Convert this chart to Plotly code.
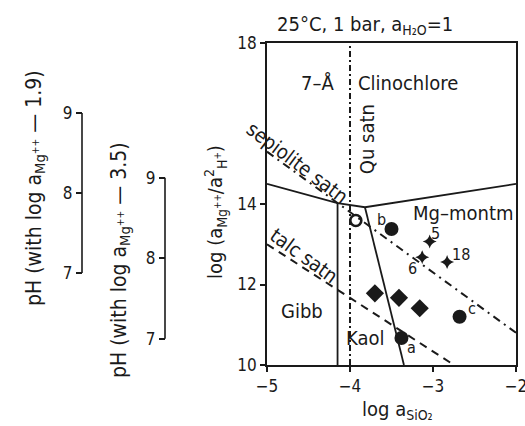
import plotly.graph_objects as go

# ---- data -------------------------------------------------------------
# phase boundaries (log aSiO2, log aMg++/aH+^2)
upper_bound_x = [-5.0, -4.15, -3.82, -2.0]
upper_bound_y = [14.5, 14.02, 13.92, 14.5]
gibb_kaol_x = [-4.15, -4.15]
gibb_kaol_y = [14.02, 10.0]
kaol_mont_x = [-3.82, -3.35]
kaol_mont_y = [13.92, 10.0]

# saturation lines
qu_satn_x = [-4.0, -4.0]
qu_satn_y = [10.0, 18.0]
sepiolite_x = [-5.0, -2.0]
sepiolite_y = [15.3, 10.8]
talc_x = [-5.0, -2.77]
talc_y = [13.0, 10.03]

# water samples
circle_x = [-3.38, -3.50, -2.68]
circle_y = [10.67, 13.38, 11.20]
circle_lbl = ["a", "b", "c"]
open_x = [-3.93]
open_y = [13.59]
diamond_x = [-3.70, -3.41, -3.16]
diamond_y = [11.78, 11.67, 11.41]
star_x = [-3.04, -3.13, -2.83]
star_y = [13.07, 12.68, 12.56]
star_lbl = ["5", "6", "18"]

x_ticks = [-5, -4, -3, -2]
x_ticklabels = ["\u22125", "\u22124", "\u22123", "\u22122"]
y_ticks = [10, 12, 14, 18]
ph_ticks = [7, 8, 9]

FONT = "DejaVu Sans Condensed, Liberation Sans Narrow, Liberation Sans, sans-serif"
INK = "#1a1a1a"

W, H = 525, 426
ML, MR, MT, MB = 10, 9, 43, 61
PW = W - ML - MR
PH = H - MT - MB


def px_x(px):
    return (px - ML) / PW


def px_y(py):
    return (H - MB - py) / PH


fig = go.Figure()

line_style = dict(color=INK, width=1.8)
for xs, ys in [(upper_bound_x, upper_bound_y), (gibb_kaol_x, gibb_kaol_y),
               (kaol_mont_x, kaol_mont_y)]:
    fig.add_trace(go.Scatter(x=xs, y=ys, mode="lines", line=line_style,
                             hoverinfo="skip", showlegend=False))

fig.add_trace(go.Scatter(x=qu_satn_x, y=qu_satn_y, mode="lines",
                         line=dict(color=INK, width=2, dash="6px,3px,2px,3px"),
                         showlegend=False))
fig.add_trace(go.Scatter(x=sepiolite_x, y=sepiolite_y, mode="lines",
                         line=dict(color=INK, width=2, dash="8px,5px,2px,5px"),
                         showlegend=False))
fig.add_trace(go.Scatter(x=talc_x, y=talc_y, mode="lines",
                         line=dict(color=INK, width=2, dash="8px,6px"),
                         showlegend=False))

fig.add_trace(go.Scatter(x=circle_x, y=circle_y, mode="markers",
                         marker=dict(symbol="circle", size=14, color=INK),
                         showlegend=False))
fig.add_trace(go.Scatter(x=open_x, y=open_y, mode="markers",
                         marker=dict(symbol="circle-open", size=11, color=INK,
                                     line=dict(color=INK, width=2.6)),
                         showlegend=False))
fig.add_trace(go.Scatter(x=diamond_x, y=diamond_y, mode="markers",
                         marker=dict(symbol="diamond", size=14, color=INK),
                         showlegend=False))
fig.add_trace(go.Scatter(x=star_x, y=star_y, mode="markers",
                         marker=dict(symbol="star-diamond", size=10, color=INK),
                         showlegend=False))

# placeholders so the pH scales are drawn
fig.add_trace(go.Scatter(x=[None], y=[None], yaxis="y2", showlegend=False))
fig.add_trace(go.Scatter(x=[None], y=[None], yaxis="y3", showlegend=False))

tickfont = dict(family=FONT, size=17, color=INK)
fig.update_layout(
    width=W, height=H,
    margin=dict(l=ML, r=MR, t=MT, b=MB, autoexpand=False),
    paper_bgcolor="white", plot_bgcolor="white",
    font=dict(family=FONT, color=INK),
    xaxis=dict(domain=[px_x(267), 1], range=[-5, -2], tickvals=x_ticks,
               ticktext=x_ticklabels, ticks="outside", ticklen=5,
               tickwidth=1.5, tickcolor=INK, showline=True, mirror=True,
               linecolor=INK, linewidth=1.8, showgrid=False, zeroline=False,
               tickfont=tickfont, ticklabeloverflow="allow", automargin=False),
    yaxis=dict(range=[10, 18], tickvals=y_ticks, ticks="outside", ticklen=5,
               tickwidth=1.5, tickcolor=INK, showline=True, mirror=True,
               linecolor=INK, linewidth=1.8, showgrid=False, zeroline=False,
               tickfont=tickfont, automargin=False),
    yaxis2=dict(overlaying="y", anchor="free", position=px_x(82), side="left",
                range=[5.85, 9.875], tickvals=ph_ticks, ticks="outside",
                ticklen=6, tickwidth=1.5, tickcolor=INK, showline=False,
                showgrid=False, zeroline=False, tickfont=tickfont,
                automargin=False),
    yaxis3=dict(overlaying="y", anchor="free", position=px_x(165), side="left",
                range=[6.675, 10.675], tickvals=ph_ticks, ticks="outside",
                ticklen=6, tickwidth=1.5, tickcolor=INK, showline=False,
                showgrid=False, zeroline=False, tickfont=tickfont,
                automargin=False),
)

# pH scale spines between 7 and 9
for pos, yref in [(px_x(82), "y2"), (px_x(165), "y3")]:
    fig.add_shape(type="line", xref="paper", yref=yref, x0=pos, x1=pos,
                  y0=7, y1=9, line=dict(color=INK, width=1.6))

ann = []
lab = dict(family=FONT, size=20, color=INK)
centre = dict(xanchor="center", yanchor="middle", showarrow=False)
ann.append(dict(text="25\u00b0C, 1 bar, a<sub>H\u2082O</sub>=1", xref="paper",
                yref="paper", x=px_x(365), y=px_y(25), font=lab, **centre))
ann.append(dict(text="log a<sub>SiO\u2082</sub>", xref="paper", yref="paper",
                x=px_x(397), y=px_y(410), font=lab, **centre))
ann.append(dict(text="log (a<sub>Mg<sup>++</sup></sub>/a<sup>2</sup><sub>H<sup>+</sup></sub>)",
                xref="paper", yref="paper", x=px_x(215), y=px_y(212),
                textangle=-90, font=lab, **centre))
ann.append(dict(text="pH (with log a<sub>Mg<sup>++</sup></sub> \u2014 1.9)",
                xref="paper", yref="paper", x=px_x(35), y=px_y(188),
                textangle=-90, font=dict(family=FONT, size=21, color=INK),
                **centre))
ann.append(dict(text="pH (with log a<sub>Mg<sup>++</sup></sub> \u2014 3.5)",
                xref="paper", yref="paper", x=px_x(120), y=px_y(260),
                textangle=-90, font=dict(family=FONT, size=21, color=INK),
                **centre))

# field and line labels in data coordinates
for txt, x, y, ang in [("7\u2013\u00c5", -4.39, 17.0, 0),
                       ("Clinochlore", -3.30, 17.0, 0),
                       ("Mg\u2013montm", -2.64, 13.78, 0),
                       ("Gibb", -4.58, 11.33, 0),
                       ("Kaol", -3.82, 10.67, 0),
                       ("Qu satn", -3.80, 15.6, -90),
                       ("sepiolite satn", -4.63, 15.02, 37),
                       ("talc satn", -4.55, 12.70, 36)]:
    ann.append(dict(text=txt, x=x, y=y, xref="x", yref="y", textangle=ang,
                    font=lab, **centre))

# sample labels, offset in pixels from their markers
small = dict(family=FONT, size=16, color=INK)
for txt, x, y, dx, dy in zip(circle_lbl + star_lbl, circle_x + star_x,
                             circle_y + star_y,
                             [10, -10, 12, 6, -10, 14],
                             [-9, 9, 8, 8, -11, 7]):
    ann.append(dict(text=txt, x=x, y=y, xref="x", yref="y", xshift=dx,
                    yshift=dy, font=small, **centre))

fig.update_layout(annotations=ann)
fig.write_html("out.html")
